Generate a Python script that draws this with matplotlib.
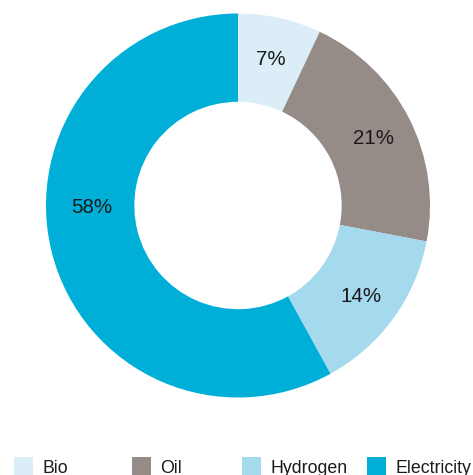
import numpy as np
import matplotlib.pyplot as plt
from matplotlib.patches import Rectangle

plt.rcParams['font.family'] = ['Liberation Sans', 'DejaVu Sans']

# Share of energy carriers
categories = ["Bio", "Oil", "Hydrogen", "Electricity"]
shares = [7, 21, 14, 58]
colors = ["#dbeef8", "#958b87", "#a4d9ee", "#00afd8"]

W, H = 473, 475
fig = plt.figure(figsize=(W / 100, H / 100), dpi=100)

# donut: centre (238, 205.5) px, outer radius 192 px
cx, cy, r = 238, 205.5, 192
ax = fig.add_axes([(cx - r) / W, (H - cy - r) / H, 2 * r / W, 2 * r / H])
wedges, _ = ax.pie(shares, colors=colors, startangle=90, counterclock=False,
                   radius=1, wedgeprops=dict(width=0.46, linewidth=0))
ax.set_xlim(-1, 1)
ax.set_ylim(-1, 1)
ax.axis("off")

# percentage labels inside the ring
label_r = 0.79
for w, val in zip(wedges, shares):
    ang = (w.theta1 + w.theta2) / 2
    rr = label_r
    if val > 50:
        ang, rr = 180, 0.76  # big slice: label sits level with the centre
    x = rr * np.cos(np.radians(ang))
    y = rr * np.sin(np.radians(ang))
    ax.text(x, y, f"{val}%", ha="center", va="center_baseline",
            fontsize=14.8, color="#1a1a1a")

# legend row along the bottom edge
legend_x = [14, 132, 242, 367]
for xp, lab, col in zip(legend_x, categories, colors):
    fig.patches.append(Rectangle((xp / W, (H - 476) / H), 19 / W, 19 / H,
                                 transform=fig.transFigure, facecolor=col,
                                 edgecolor="none"))
    fig.text((xp + 28) / W, (H - 473) / H, lab, ha="left", va="baseline",
             fontsize=12.8, color="#1a1a1a")

fig.savefig("out.png", dpi=100)
